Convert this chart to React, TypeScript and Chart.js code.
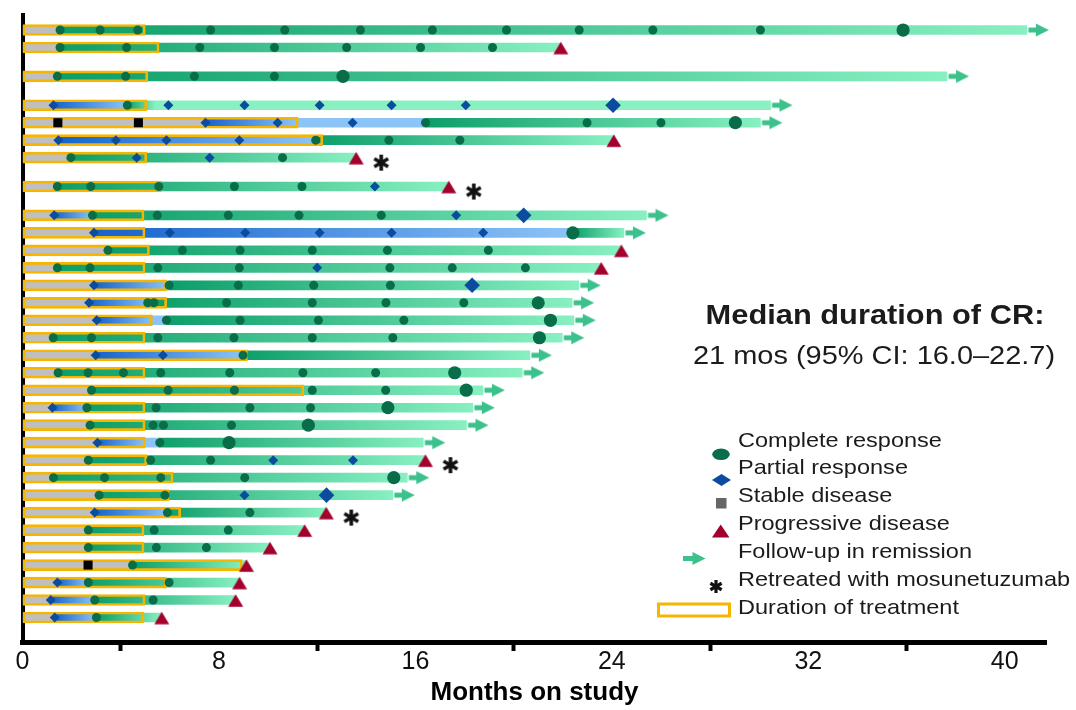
import React, { useEffect, useRef } from 'react';
import { Chart, registerables } from 'chart.js';
Chart.register(...registerables);

const FONT = '"Liberation Sans", Arial, Helvetica, sans-serif';

// ---------------- DATA (months on study) ----------------
const groupBreakBefore = [0,0,1,1,0,0,0,1,1,0,0,0,0,0,0,0,0,0,0,0,0,0,0,0,0,0,0,0,0,0,0,0];
const respStart = [1.53,1.53,1.42,1.26,7.45,1.46,1.97,1.42,1.29,2.91,3.48,1.42,2.91,2.71,3.02,1.25,2.98,1.45,2.81,1.22,2.75,3.05,2.68,1.26,3.12,2.94,2.68,2.68,4.48,1.42,1.15,1.31];
const prEnd = [null,null,null,4.27,11.2,11.94,null,null,2.85,22.41,null,null,5.97,5.29,5.29,null,8.98,null,null,2.62,null,5.0,null,null,null,5.9,null,null,null,2.68,2.94,3.01];
const crStart = [1.53,1.53,1.42,4.27,16.41,11.94,1.97,1.42,2.85,22.41,3.48,1.42,5.97,5.29,5.86,1.25,8.98,1.45,2.81,2.62,2.75,5.55,2.68,1.26,3.12,5.9,2.68,2.68,4.48,2.68,2.94,3.01];
const crFadeEnd = [null,null,null,5.4,null,null,null,null,null,null,null,null,null,null,null,null,null,null,null,null,null,null,null,null,null,null,null,null,null,null,null,null];
const lastFollowUp = [40.9,21.92,37.65,30.46,30.05,24.08,13.59,17.36,25.41,24.49,24.39,23.57,22.65,22.38,22.45,21.98,20.66,20.35,18.75,18.34,18.08,16.32,16.41,15.67,15.08,12.37,11.49,10.08,9.12,8.84,8.68,5.67];
const ongoing = [1,0,1,1,1,0,0,0,1,1,0,0,1,1,1,1,1,1,1,1,1,1,0,1,1,0,0,0,0,0,0,0];
const retreated = [0,0,0,0,0,0,1,1,0,0,0,0,0,0,0,0,0,0,0,0,0,0,1,0,0,1,0,0,0,0,0,0];
const treatmentEnd = [5.0,5.56,5.1,5.06,11.23,12.23,5.06,5.66,4.95,4.99,5.17,4.99,5.87,5.87,5.29,4.99,9.16,4.99,11.46,4.99,4.99,4.99,5.06,6.13,5.97,6.44,4.95,4.95,8.95,5.86,4.99,4.95];

const crAssess: number[][] = [
  [1.53,3.16,4.69,7.66,10.68,13.76,16.69,19.71,22.67,25.67,30.05],
  [1.53,4.24,7.22,10.26,13.2,16.21,19.14],
  [1.42,4.2,7.0,10.26],
  [4.27],
  [16.41,22.99,26.0],
  [11.94,14.92,17.81],
  [1.97,10.59],
  [1.42,2.78,5.55,8.63,11.38],
  [2.85,5.49,8.38,11.26,14.61],
  [],
  [3.48,6.51,8.86,11.8,14.86,18.97],
  [1.42,2.75,5.51,8.83,14.96,17.5,20.48],
  [5.97,8.79,11.86,14.98],
  [5.1,5.35,8.31,11.8,14.8,17.97],
  [5.86,8.86,12.05,15.53],
  [1.25,2.81,5.51,8.61,11.8,15.08],
  [8.98],
  [1.45,2.67,4.11,5.63,8.44,11.42,14.38],
  [2.81,5.93,8.63,11.8,14.79],
  [2.62,5.44,9.26,11.73],
  [2.75,5.32,5.74,8.51],
  [5.59],
  [2.68,5.22,7.66],
  [1.26,3.34,5.63,9.05],
  [3.12,5.8],
  [5.9,9.26],
  [2.68,5.36,8.38],
  [2.68,5.45,7.49],
  [4.48],
  [2.68,5.97],
  [2.94,5.32],
  [3.01],
];
const crBest = [35.86,null,13.05,null,29.03,null,null,null,null,22.41,null,null,null,21.0,21.5,21.05,null,17.6,18.07,14.88,11.64,8.41,null,15.12,null,null,null,null,null,null,null,null];
const prAssess: number[][] = [
  [],[],[],
  [1.26,5.94,9.04,12.1,15.03,18.05],
  [7.45,10.39,13.44],
  [1.46,3.8,5.86,8.83],
  [4.65,7.62],
  [14.35],
  [1.29,17.66],
  [2.91,6.0,9.07,12.1,15.03,18.76],
  [],
  [12.0],
  [2.91],
  [2.71],
  [3.02],
  [],
  [2.98,5.72],
  [],[],
  [1.22],
  [],
  [3.05],
  [10.21,13.46],
  [],
  [9.04],
  [2.94],
  [],[],[],
  [1.42],
  [1.15],
  [1.31],
];
const prBest = [null,null,null,24.05,null,null,null,null,20.41,null,null,null,18.31,null,null,null,null,null,null,null,null,null,null,null,12.38,null,null,null,null,null,null,null];
const sdAssess: number[][] = [[],[],[],[],[1.44,4.72],[],[],[],[],[],[],[],[],[],[],[],[],[],[],[],[],[],[],[],[],[],[],[],[2.67],[],[],[]];

const xTicks = [0, 8, 16, 24, 32, 40];
const legendLabels = ['Complete response','Partial response','Stable disease','Progressive disease','Follow-up in remission','Retreated with mosunetuzumab','Duration of treatment'];

// ---------------- COLOURS ----------------
const C = {
  gray: '#BFBFBF',
  blue0: '#1463CC', blue1: '#8CC4F8',
  green0: '#0C9E69', green1: '#88F0C1',
  dot: '#0A6D4A', diamond: '#0B4C9E', square: '#000000', tri: '#A3002D',
  arrow: '#3CC18C', box: '#F5B500', text: '#1b1b1b',
};

function makeArrowImg() {
  const c = document.createElement('canvas');
  c.width = 50; c.height = 16;
  const g = c.getContext('2d')!;
  const cx = 25, cy = 8;
  g.fillStyle = C.arrow;
  g.fillRect(cx + 1.5, cy - 2.5, 9, 5);
  g.beginPath();
  g.moveTo(cx + 9, cy - 6.5);
  g.lineTo(cx + 22, cy);
  g.lineTo(cx + 9, cy + 6.5);
  g.closePath();
  g.fill();
  return c;
}
function drawAsterisk(g: CanvasRenderingContext2D, x: number, y: number, arm: number, lw: number) {
  g.save();
  g.strokeStyle = '#111';
  g.lineWidth = lw;
  g.lineCap = 'butt';
  for (let k = 0; k < 3; k++) {
    const a = Math.PI / 2 + k * Math.PI / 3;
    g.beginPath();
    g.moveTo(x - Math.cos(a) * arm, y - Math.sin(a) * arm);
    g.lineTo(x + Math.cos(a) * arm, y + Math.sin(a) * arm);
    g.stroke();
  }
  g.restore();
}
function makeAsteriskImg() {
  const c = document.createElement('canvas');
  c.width = 80; c.height = 40;
  const g = c.getContext('2d')!;
  drawAsterisk(g, 40 + 25, 20 + 5, 8, 3.6);
  return c;
}
function drawTri(g: CanvasRenderingContext2D, x: number, y: number, w: number, h: number, col: string) {
  g.fillStyle = col;
  g.beginPath();
  g.moveTo(x, y - h / 2);
  g.lineTo(x + w / 2, y + h / 2);
  g.lineTo(x - w / 2, y + h / 2);
  g.closePath();
  g.fill();
}
function makeTriImg() {
  const c = document.createElement('canvas');
  c.width = 18; c.height = 18;
  const g = c.getContext('2d')!;
  drawTri(g, 9, 9.5, 15, 12.5, C.tri);
  return c;
}

const gradFill = (c0: string, c1: string) => (ctx: any) => {
  const chart = ctx.chart;
  const raw = ctx.raw;
  if (!raw || !raw.x || !chart.chartArea) return c0;
  const xs = chart.scales.x;
  const a = xs.getPixelForValue(raw.x[0]);
  const b = xs.getPixelForValue(raw.x[1]);
  if (!(b > a + 0.5)) return c0;
  const gr = chart.ctx.createLinearGradient(a, 0, b, 0);
  gr.addColorStop(0, c0);
  gr.addColorStop(1, c1);
  return gr;
};

function textStretch(g: CanvasRenderingContext2D, t: string, x: number, y: number, font: string, sx: number, align: 'left' | 'center') {
  g.save();
  g.font = font;
  g.fillStyle = C.text;
  g.textBaseline = 'alphabetic';
  const w = g.measureText(t).width * sx;
  const x0 = align === 'center' ? x - w / 2 : x;
  g.translate(x0, y);
  g.scale(sx, 1);
  g.textAlign = 'left';
  g.fillText(t, 0, 0);
  g.restore();
}

export default function App() {
  const ref = useRef<HTMLCanvasElement>(null);
  useEffect(() => {
    if (!ref.current) return;
    const rowPos: number[] = [];
    let acc = 0;
    groupBreakBefore.forEach((gb, i) => { acc += gb ? 0.65 : 0; rowPos.push(i + acc); });
    const yMax = rowPos[rowPos.length - 1] + 1.4;

    const grayData = rowPos.map((y, i) => ({ x: [0, respStart[i]], y }));
    const blueData = rowPos.flatMap((y, i) => prEnd[i] != null ? [{ x: [respStart[i], prEnd[i] as number], y }] : []);
    const lblueData = rowPos.flatMap((y, i) => prEnd[i] != null && crStart[i] > (prEnd[i] as number) ? [{ x: [prEnd[i] as number, crStart[i]], y }] : []);
    const greenData = rowPos.map((y, i) => ({ x: [crStart[i], crFadeEnd[i] ?? lastFollowUp[i]], y }));
    const mintData = rowPos.flatMap((y, i) => crFadeEnd[i] != null ? [{ x: [crFadeEnd[i] as number, lastFollowUp[i]], y }] : []);
    const boxData = rowPos.map((y, i) => ({ x: [0, treatmentEnd[i]], y }));

    const pts = (arr: number[][]) => rowPos.flatMap((y, i) => arr[i].map((x) => ({ x, y })));
    const single = (arr: (number | null)[]) => rowPos.flatMap((y, i) => arr[i] != null ? [{ x: arr[i] as number, y }] : []);
    const dotsS = pts(crAssess);
    const dotsB = single(crBest);
    const diaS = pts(prAssess);
    const diaB = single(prBest);
    const sq = pts(sdAssess);
    const pd = rowPos.flatMap((y, i) => !ongoing[i] ? [{ x: lastFollowUp[i], y }] : []);
    const arrows = rowPos.flatMap((y, i) => ongoing[i] ? [{ x: lastFollowUp[i], y }] : []);
    const stars = rowPos.flatMap((y, i) => retreated[i] ? [{ x: lastFollowUp[i], y }] : []);

    const arrowImg = makeArrowImg();
    const starImg = makeAsteriskImg();
    const triImg = makeTriImg();

    const barBase = { type: 'bar', indexAxis: 'y', grouped: false, barThickness: 9, borderWidth: 0 };
    const scat = (data: any, extra: any) => ({ type: 'scatter', data, borderWidth: 0, clip: false, ...extra });

    const overlay = {
      id: 'overlay',
      afterDraw(chart: any) {
        const g: CanvasRenderingContext2D = chart.ctx;
        // Median annotation
        textStretch(g, 'Median duration of CR:', 875, 324, `bold 28px ${FONT}`, 1.1, 'center');
        textStretch(g, '21 mos (95% CI: 16.0\u201322.7)', 874, 364, `26px ${FONT}`, 1.114, 'center');
        // Legend
        const tx = 738;
        const base = [446.7, 474.3, 502, 530, 558.3, 586, 614];
        legendLabels.forEach((t, i) => textStretch(g, t, tx, base[i], `21px ${FONT}`, 1.12, 'left'));
        g.save();
        g.fillStyle = C.dot;
        g.beginPath(); g.ellipse(721, 454.3, 8.8, 5.8, 0, 0, Math.PI * 2); g.fill();
        g.fillStyle = C.diamond;
        g.beginPath(); g.moveTo(712, 480); g.lineTo(721.5, 474); g.lineTo(731, 480); g.lineTo(721.5, 486); g.closePath(); g.fill();
        g.fillStyle = '#666666';
        g.fillRect(716, 498, 10.5, 10.5);
        drawTri(g, 720.7, 531, 17.5, 13, C.tri);
        g.fillStyle = C.arrow;
        g.fillRect(683, 556, 11, 5);
        g.beginPath(); g.moveTo(692.5, 552); g.lineTo(705.5, 558.5); g.lineTo(692.5, 565); g.closePath(); g.fill();
        drawAsterisk(g, 716, 586.5, 6.5, 3.2);
        g.strokeStyle = C.box; g.lineWidth = 3;
        g.strokeRect(658.5, 604, 71, 12);
        g.restore();
      },
    };

    const chart = new Chart(ref.current, {
      type: 'bar',
      data: {
        datasets: [
          scat(stars, { pointStyle: starImg, order: 0 }),
          scat(dotsB, { pointStyle: 'circle', pointRadius: 6.6, backgroundColor: C.dot, order: 0 }),
          scat(dotsS, { pointStyle: 'circle', pointRadius: 4.5, backgroundColor: C.dot, order: 0 }),
          scat(diaB, { pointStyle: 'rectRot', pointRadius: 7.8, backgroundColor: C.diamond, order: 0 }),
          scat(diaS, { pointStyle: 'rectRot', pointRadius: 5, backgroundColor: C.diamond, order: 0 }),
          scat(sq, { pointStyle: 'rect', pointRadius: 6.4, backgroundColor: C.square, order: 0 }),
          scat(pd, { pointStyle: triImg, order: 0 }),
          scat(arrows, { pointStyle: arrowImg, order: 1 }),
          { type: 'bar', indexAxis: 'y', grouped: false, data: boxData, barThickness: 11, backgroundColor: 'rgba(0,0,0,0)', borderColor: C.box, borderWidth: 2, borderSkipped: false, order: 2 },
          { ...barBase, data: grayData, backgroundColor: C.gray, order: 3 },
          { ...barBase, data: blueData, backgroundColor: gradFill(C.blue0, C.blue1), order: 3 },
          { ...barBase, data: lblueData, backgroundColor: C.blue1, order: 3 },
          { ...barBase, data: greenData, backgroundColor: gradFill(C.green0, C.green1), order: 3 },
          { ...barBase, data: mintData, backgroundColor: C.green1, order: 3 },
        ] as any,
      },
      options: {
        animation: false,
        responsive: false,
        events: [],
        layout: { padding: { top: 15, right: 29.5, left: 0, bottom: 0 } },
        plugins: { legend: { display: false }, tooltip: { enabled: false }, title: { display: false } },
        scales: {
          x: {
            type: 'linear', min: 0, max: 41.7, offset: false,
            afterFit: (s: any) => { s.height = 68; },
            afterBuildTicks: (s: any) => { s.ticks = xTicks.map((v) => ({ value: v })); },
            ticks: { stepSize: 8, includeBounds: false, autoSkip: false, maxRotation: 0, padding: -4,
              font: { family: FONT, size: 25 }, color: '#111' },
            grid: { display: true, drawOnChartArea: false, drawTicks: true, tickLength: 9, tickWidth: 4, tickColor: '#000', color: '#000' },
            border: { display: true, color: '#000', width: 5 },
            title: { display: true, text: 'Months on study', color: '#000',
              font: { family: FONT, size: 26, weight: 'bold', lineHeight: 1 }, padding: { top: 0, bottom: 4 } },
          },
          y: {
            type: 'linear', min: -0.86, max: yMax, reverse: true, offset: false,
            afterFit: (s: any) => { s.width = 22.5; },
            ticks: { display: false },
            grid: { display: false, drawTicks: false },
            border: { display: true, color: '#000', width: 4 },
          },
        },
      } as any,
      plugins: [overlay],
    });
    return () => chart.destroy();
  }, []);
  return (
    <div style={{ position: 'absolute', left: 0, top: 0, width: 1076, height: 710, background: '#fff' }}>
      <canvas ref={ref} width={1076} height={710} style={{ display: 'block' }} />
    </div>
  );
}
